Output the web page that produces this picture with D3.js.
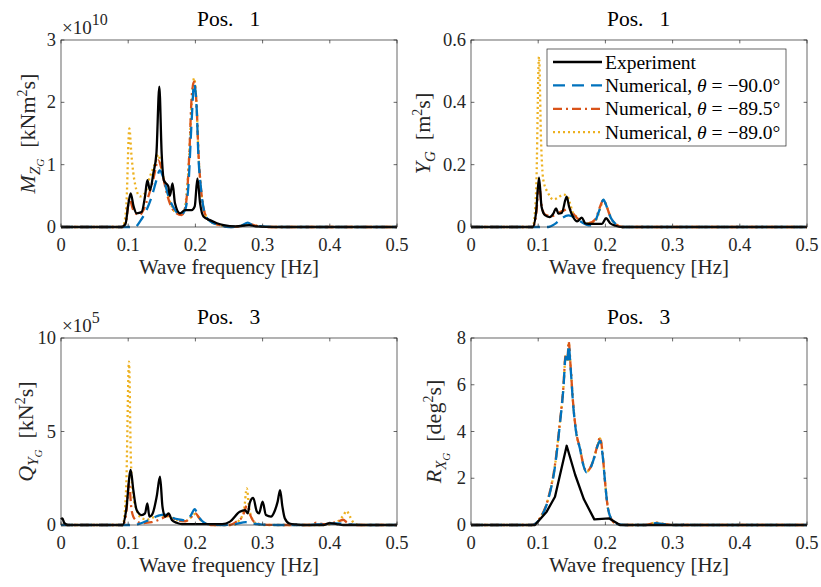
<!DOCTYPE html>
<html>
<head>
<meta charset="utf-8">
<title>Spectra</title>
<script src="https://d3js.org/d3.v7.min.js"></script>
<style>
body { margin: 0; background: white; }
svg text { fill: #262626; }
</style>
</head>
<body>
<script>
// x axis
var freqTicks = [0, 0.1, 0.2, 0.3, 0.4, 0.5];
var freqTickLabels = ["0", "0.1", "0.2", "0.3", "0.4", "0.5"];

// legend names
var seriesNames = ["Experiment", "\u221290.0\u00b0", "\u221289.5\u00b0", "\u221289.0\u00b0"];

// ---- Pos. 1, M_ZG  (x 1e10 kNm^2 s) ----
var mzTicks = [0, 1, 2, 3];
var mzExp = [[0,0],[0.09,0],[0.096,0.05],[0.1,0.35],[0.1037,0.54],[0.108,0.33],[0.1126,0.22],[0.12,0.24],[0.125,0.49],[0.1285,0.75],[0.1324,0.59],[0.1374,0.86],[0.142,1.18],[0.1463,2.25],[0.1498,1.18],[0.153,0.75],[0.1597,0.65],[0.162,0.5],[0.166,0.7],[0.1696,0.38],[0.177,0.22],[0.1845,0.27],[0.1945,0.27],[0.199,0.33],[0.203,0.78],[0.207,0.38],[0.212,0.17],[0.2217,0.11],[0.232,0.06],[0.242,0.03],[0.26,0.01],[0.28,0.03],[0.29,0.01],[0.32,0],[0.5,0]];
var mz900 = [[0,0],[0.11,0],[0.1176,0.09],[0.125,0.22],[0.135,0.49],[0.142,0.75],[0.147,0.91],[0.152,0.8],[0.16,0.49],[0.17,0.27],[0.177,0.19],[0.1845,0.27],[0.1895,0.65],[0.1945,1.72],[0.198,2.3],[0.202,1.88],[0.2043,1.18],[0.208,0.65],[0.214,0.22],[0.222,0.09],[0.237,0.03],[0.25,0],[0.268,0.02],[0.278,0.07],[0.285,0.03],[0.3,0.01],[0.33,0],[0.5,0]];
var mz895 = [[0,0],[0.092,0],[0.097,0.1],[0.1017,0.46],[0.1076,0.27],[0.1167,0.19],[0.1225,0.27],[0.13,0.49],[0.137,0.75],[0.1448,1.07],[0.15,0.91],[0.155,0.65],[0.162,0.38],[0.172,0.22],[0.1796,0.19],[0.186,0.38],[0.191,1.18],[0.1945,2.09],[0.198,2.33],[0.202,1.9],[0.2045,1.2],[0.208,0.65],[0.214,0.22],[0.222,0.09],[0.237,0.03],[0.25,0],[0.27,0.02],[0.28,0.05],[0.29,0.02],[0.31,0],[0.5,0]];
var mz890 = [[0,0],[0.092,0],[0.097,0.3],[0.1017,1.58],[0.105,1.13],[0.11,0.7],[0.1176,0.49],[0.125,0.54],[0.1324,0.81],[0.14,1.02],[0.1448,1.16],[0.15,0.91],[0.157,0.59],[0.165,0.33],[0.172,0.22],[0.182,0.22],[0.1895,0.91],[0.1945,1.98],[0.198,2.39],[0.202,1.9],[0.2045,1.2],[0.208,0.65],[0.214,0.22],[0.222,0.09],[0.237,0.03],[0.25,0],[0.27,0.02],[0.28,0.04],[0.29,0.02],[0.31,0],[0.5,0]];

// ---- Pos. 1, Y_G  (m^2 s) ----
var ygTicks = [0, 0.2, 0.4, 0.6];
var ygExp = [[0,0],[0.092,0],[0.097,0.05],[0.1012,0.158],[0.105,0.065],[0.11,0.038],[0.117,0.032],[0.1225,0.043],[0.1265,0.06],[0.13,0.043],[0.135,0.045],[0.1424,0.097],[0.146,0.065],[0.152,0.032],[0.158,0.018],[0.165,0.03],[0.17,0.012],[0.18,0.01],[0.195,0.01],[0.201,0.028],[0.207,0.012],[0.215,0.004],[0.225,0],[0.5,0]];
var yg900 = [[0,0],[0.115,0],[0.125,0.01],[0.135,0.028],[0.145,0.037],[0.155,0.03],[0.165,0.015],[0.177,0.005],[0.185,0.02],[0.192,0.06],[0.197,0.088],[0.202,0.065],[0.208,0.03],[0.215,0.01],[0.225,0],[0.5,0]];
var yg895 = [[0,0],[0.092,0],[0.097,0.04],[0.1012,0.14],[0.105,0.07],[0.11,0.04],[0.12,0.035],[0.13,0.045],[0.14,0.055],[0.145,0.06],[0.15,0.05],[0.155,0.035],[0.165,0.018],[0.175,0.012],[0.185,0.025],[0.192,0.065],[0.197,0.087],[0.202,0.065],[0.208,0.03],[0.215,0.01],[0.225,0],[0.5,0]];
var yg890 = [[0,0],[0.092,0],[0.097,0.12],[0.1012,0.546],[0.1042,0.279],[0.1076,0.151],[0.115,0.108],[0.1225,0.088],[0.13,0.095],[0.1374,0.104],[0.1433,0.1],[0.1473,0.076],[0.152,0.044],[0.16,0.03],[0.169,0.013],[0.18,0.012],[0.188,0.03],[0.193,0.065],[0.197,0.087],[0.202,0.065],[0.208,0.03],[0.215,0.01],[0.225,0],[0.5,0]];

// ---- Pos. 3, Q_YG  (x 1e5 kN^2 s) ----
var qyTicks = [0, 5, 10];
var qyExp = [[0,0.3],[0.002,0.35],[0.005,0.1],[0.01,0],[0.092,0],[0.097,0.8],[0.1037,2.94],[0.1076,1.87],[0.1126,0.8],[0.12,0.53],[0.125,0.62],[0.1285,1.16],[0.1315,0.45],[0.1364,0.62],[0.1424,1.52],[0.1473,2.58],[0.151,0.98],[0.155,0.45],[0.16,0.62],[0.165,0.27],[0.172,0.12],[0.18,0.05],[0.24,0.05],[0.2515,0.18],[0.266,0.71],[0.274,0.8],[0.278,0.62],[0.281,1.2],[0.286,1.45],[0.2915,0.71],[0.2947,0.62],[0.3,1.25],[0.305,0.53],[0.3125,0.45],[0.318,0.75],[0.3224,1.25],[0.326,1.87],[0.3295,0.98],[0.333,0.36],[0.34,0.08],[0.35,0.03],[0.36,0],[0.39,0],[0.4,0.1],[0.41,0.05],[0.42,0],[0.5,0]];
var qy900 = [[0,0],[0.105,0],[0.115,0.05],[0.13,0.25],[0.145,0.5],[0.155,0.55],[0.165,0.4],[0.175,0.3],[0.185,0.25],[0.193,0.5],[0.199,0.85],[0.204,0.5],[0.212,0.15],[0.22,0.03],[0.24,0],[0.26,0.05],[0.275,0.15],[0.285,0.08],[0.3,0.02],[0.32,0],[0.37,0],[0.39,0.05],[0.41,0.08],[0.43,0.03],[0.45,0],[0.5,0]];
var qy895 = [[0,0],[0.092,0],[0.097,0.6],[0.1012,2.25],[0.105,0.8],[0.11,0.3],[0.12,0.1],[0.135,0.15],[0.15,0.35],[0.16,0.5],[0.17,0.3],[0.185,0.2],[0.193,0.4],[0.2,0.62],[0.207,0.3],[0.215,0.08],[0.225,0],[0.25,0],[0.26,0.15],[0.27,0.45],[0.277,1.05],[0.282,0.5],[0.288,0.15],[0.3,0.03],[0.32,0],[0.37,0],[0.38,0.12],[0.39,0.05],[0.405,0.12],[0.415,0.22],[0.42,0.28],[0.425,0.15],[0.432,0.03],[0.44,0],[0.5,0]];
var qy890 = [[0,0],[0.092,0],[0.097,2.0],[0.1012,8.73],[0.104,3.48],[0.1076,1.51],[0.1126,0.8],[0.12,0.36],[0.13,0.3],[0.14,0.45],[0.15,0.5],[0.16,0.45],[0.17,0.3],[0.185,0.2],[0.193,0.4],[0.2,0.6],[0.207,0.3],[0.215,0.08],[0.225,0],[0.255,0],[0.265,0.25],[0.272,0.7],[0.2765,1.96],[0.28,0.9],[0.285,0.3],[0.292,0.05],[0.3,0],[0.39,0],[0.41,0.15],[0.42,0.5],[0.425,0.75],[0.43,0.45],[0.436,0.1],[0.445,0],[0.5,0]];

// ---- Pos. 3, R_XG  (deg^2 s) ----
var rxTicks = [0, 2, 4, 6, 8];
var rxExp = [[0,0],[0.0952,0],[0.1126,0.57],[0.125,1.21],[0.1424,3.39],[0.155,2.15],[0.168,1.1],[0.1835,0.24],[0.2058,0.28],[0.2217,0],[0.5,0]];
var rx900 = [[0,0],[0.09,0],[0.1027,0.28],[0.115,1.1],[0.125,2.5],[0.1324,4.35],[0.1374,5.8],[0.1409,7.2],[0.1434,6.9],[0.1453,7.7],[0.1483,6.7],[0.152,5.15],[0.157,3.86],[0.162,3.28],[0.167,2.58],[0.172,2.25],[0.1772,2.4],[0.183,2.85],[0.1885,3.4],[0.192,3.6],[0.196,2.95],[0.1994,1.87],[0.203,0.87],[0.208,0.3],[0.2168,0.05],[0.23,0],[0.26,0],[0.275,0.08],[0.285,0.05],[0.3,0],[0.315,0],[0.322,0.14],[0.327,0],[0.5,0]];
var rx895 = [[0,0],[0.09,0],[0.1027,0.3],[0.115,1.15],[0.125,2.58],[0.1324,4.43],[0.1374,5.86],[0.1409,7.29],[0.1434,7.0],[0.1453,7.85],[0.1483,6.75],[0.152,5.2],[0.157,3.9],[0.162,3.3],[0.167,2.6],[0.172,2.3],[0.1772,2.43],[0.183,2.87],[0.1885,3.44],[0.192,3.75],[0.196,3.0],[0.1994,1.87],[0.203,0.87],[0.208,0.3],[0.2168,0.05],[0.23,0],[0.26,0],[0.275,0.1],[0.285,0.05],[0.3,0],[0.5,0]];
var rx890 = [[0,0],[0.09,0],[0.1027,0.3],[0.115,1.14],[0.125,2.56],[0.1324,4.4],[0.1374,5.84],[0.1409,7.25],[0.1434,6.98],[0.1453,7.8],[0.1483,6.74],[0.152,5.18],[0.157,3.88],[0.162,3.3],[0.167,2.6],[0.172,2.28],[0.1772,2.42],[0.183,2.86],[0.1885,3.42],[0.192,3.7],[0.196,2.98],[0.1994,1.87],[0.203,0.87],[0.208,0.3],[0.2168,0.05],[0.23,0],[0.26,0],[0.275,0.1],[0.285,0.05],[0.3,0],[0.5,0]];

var width = 821, height = 587;
var colors = ["#000000", "#0072BD", "#D95319", "#EDB120"];
var dashes = [null, "12,7", "9,4,2,4", "2,3"];
var drawOrder = [3, 2, 1, 0];

var svg = d3.select("body").append("svg")
  .attr("width", width)
  .attr("height", height)
  .style("font-family", "'Liberation Serif', 'Times New Roman', serif")
  .style("background", "white");

// rich text helper: parts = [text, italic, offset(px, +down), size]
function rich(sel, parts) {
  var prev = 0;
  parts.forEach(function(p) {
    sel.append("tspan")
      .attr("dy", p[2] - prev)
      .style("font-style", p[1] ? "italic" : "normal")
      .style("font-size", p[3] + "px")
      .text(p[0]);
    prev = p[2];
  });
}

var panels = [
  { x0: 61, y0: 40, title: "1", ticks: mzTicks, yMax: 3, exp: "10", expCurve: "monotone",
    series: [mzExp, mz900, mz895, mz890], labelOff: 26,
    label: [["M", 1, 0, 22], ["Z", 1, 5, 15], ["G", 1, 9, 11], ["  [kNm", 0, 0, 22], ["2", 0, -8, 14], ["s]", 0, 0, 22]] },
  { x0: 471, y0: 40, title: "1", ticks: ygTicks, yMax: 0.6, exp: null, expCurve: "monotone", legend: true,
    series: [ygExp, yg900, yg895, yg890], labelOff: 41,
    label: [["Y", 1, 0, 22], ["G", 1, 5, 15], ["  [m", 0, 0, 22], ["2", 0, -8, 14], ["s]", 0, 0, 22]] },
  { x0: 61, y0: 338, title: "3", ticks: qyTicks, yMax: 10, exp: "5", expCurve: "monotone",
    series: [qyExp, qy900, qy895, qy890], labelOff: 28,
    label: [["Q", 1, 0, 22], ["Y", 1, 5, 15], ["G", 1, 9, 11], ["  [kN", 0, 0, 22], ["2", 0, -8, 14], ["s]", 0, 0, 22]] },
  { x0: 471, y0: 338, title: "3", ticks: rxTicks, yMax: 8, exp: null, expCurve: "linear",
    series: [rxExp, rx900, rx895, rx890], labelOff: 30,
    label: [["R", 1, 0, 22], ["X", 1, 5, 15], ["G", 1, 9, 11], ["  [deg", 0, 0, 22], ["2", 0, -8, 14], ["s]", 0, 0, 22]] }
];

var pw = 336, ph = 187, tickLen = 3.4;

panels.forEach(function(p) {
  var x = d3.scaleLinear().domain([0, 0.5]).range([p.x0, p.x0 + pw]);
  var y = d3.scaleLinear().domain([0, p.yMax]).range([p.y0 + ph, p.y0]);
  var g = svg.append("g");

  // curves
  drawOrder.forEach(function(i) {
    var curve = (i === 0 && p.expCurve === "linear") ? d3.curveLinear : d3.curveMonotoneX;
    var line = d3.line().x(function(d) { return x(d[0]); }).y(function(d) { return y(d[1]); }).curve(curve);
    g.append("path")
      .attr("d", line(p.series[i]))
      .attr("fill", "none")
      .attr("stroke", colors[i])
      .attr("stroke-width", 2.3)
      .attr("stroke-dasharray", dashes[i])
      .attr("stroke-linejoin", "round");
  });

  // box
  g.append("rect")
    .attr("x", p.x0).attr("y", p.y0).attr("width", pw).attr("height", ph)
    .attr("fill", "none").attr("stroke", "#262626").attr("stroke-width", 0.7);

  // x ticks
  freqTicks.forEach(function(t, k) {
    var xx = x(t);
    g.append("line").attr("x1", xx).attr("x2", xx).attr("y1", p.y0 + ph).attr("y2", p.y0 + ph - tickLen)
      .attr("stroke", "#262626").attr("stroke-width", 0.7);
    g.append("line").attr("x1", xx).attr("x2", xx).attr("y1", p.y0).attr("y2", p.y0 + tickLen)
      .attr("stroke", "#262626").attr("stroke-width", 0.7);
    g.append("text").attr("x", xx).attr("y", p.y0 + ph + 24)
      .attr("text-anchor", "middle").style("font-size", "18.5px").text(freqTickLabels[k]);
  });

  // y ticks
  p.ticks.forEach(function(t) {
    var yy = y(t);
    g.append("line").attr("x1", p.x0).attr("x2", p.x0 + tickLen).attr("y1", yy).attr("y2", yy)
      .attr("stroke", "#262626").attr("stroke-width", 0.7);
    g.append("line").attr("x1", p.x0 + pw).attr("x2", p.x0 + pw - tickLen).attr("y1", yy).attr("y2", yy)
      .attr("stroke", "#262626").attr("stroke-width", 0.7);
    g.append("text").attr("x", p.x0 - 5).attr("y", yy + 6)
      .attr("text-anchor", "end").style("font-size", "18.5px").text(t);
  });

  // exponent
  if (p.exp) {
    var ex = g.append("text").attr("x", p.x0 + 1).attr("y", p.y0 - 6).style("font-size", "19px");
    ex.append("tspan").text("\u00d710");
    ex.append("tspan").attr("dy", -9).style("font-size", "16px").text(p.exp);
  }

  // title
  var tt = g.append("text").attr("x", p.x0 + pw / 2 - 32).attr("y", p.y0 - 14)
    .style("font-size", "21.5px").style("fill", "#000");
  tt.append("tspan").text("Pos.");
  tt.append("tspan").attr("dx", 16).text(p.title);

  // x label
  g.append("text").attr("x", p.x0 + pw / 2).attr("y", p.y0 + ph + 47)
    .attr("text-anchor", "middle").style("font-size", "21px").text("Wave frequency [Hz]");

  // y label
  var yl = g.append("text")
    .attr("transform", "translate(" + (p.x0 - p.labelOff) + "," + (p.y0 + ph / 2) + ") rotate(-90)")
    .attr("text-anchor", "middle")
    .style("white-space", "pre");
  rich(yl, p.label);

  // legend
  if (p.legend) {
    var lx = 547, ly = 49, lw = 239, lh = 97;
    var lg = svg.append("g");
    lg.append("rect").attr("x", lx).attr("y", ly).attr("width", lw).attr("height", lh)
      .attr("fill", "white").attr("stroke", "#262626").attr("stroke-width", 0.7);
    seriesNames.forEach(function(name, i) {
      var ry = ly + 13 + i * 23.4;
      lg.append("line").attr("x1", lx + 6).attr("x2", lx + 55).attr("y1", ry).attr("y2", ry)
        .attr("stroke", colors[i]).attr("stroke-width", 2.3).attr("stroke-dasharray", dashes[i]);
      var t = lg.append("text").attr("x", lx + 58).attr("y", ry + 6.5)
        .style("font-size", "19.5px").style("white-space", "pre").style("fill", "#000");
      if (i === 0) {
        t.text(name);
      } else {
        t.append("tspan").text("Numerical, ");
        t.append("tspan").style("font-style", "italic").text("\u03b8");
        t.append("tspan").text(" = " + name);
      }
    });
  }
});
</script>
</body>
</html>
